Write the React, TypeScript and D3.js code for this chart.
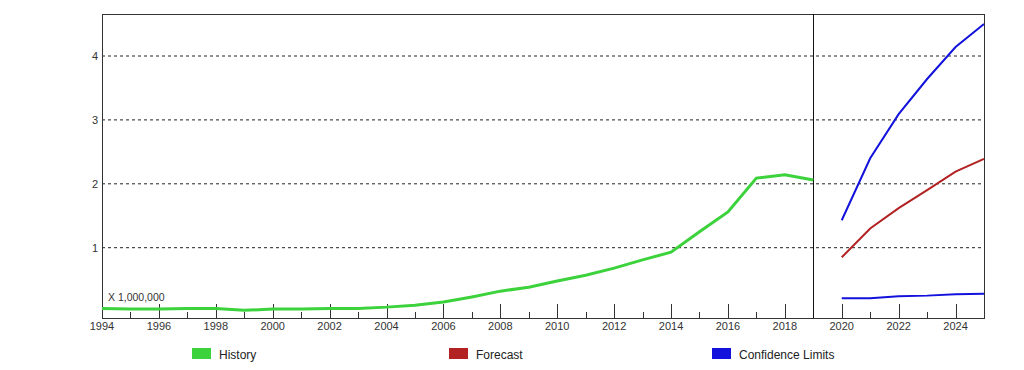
import React from 'react';
import * as d3 from 'd3';

const historyYears = [1994, 1995, 1996, 1997, 1998, 1999, 2000, 2001, 2002, 2003, 2004, 2005, 2006, 2007, 2008, 2009, 2010, 2011, 2012, 2013, 2014, 2015, 2016, 2017, 2018, 2019];
const historyValues = [0.05, 0.04, 0.04, 0.05, 0.05, 0.02, 0.04, 0.04, 0.05, 0.05, 0.07, 0.1, 0.15, 0.23, 0.32, 0.38, 0.48, 0.57, 0.68, 0.81, 0.93, 1.25, 1.56, 2.09, 2.14, 2.06];

const forecastYears = [2020, 2021, 2022, 2023, 2024, 2025];
const forecastValues = [0.85, 1.3, 1.62, 1.9, 2.19, 2.39];
const upperValues = [1.43, 2.4, 3.09, 3.64, 4.14, 4.5];
const lowerValues = [0.21, 0.21, 0.24, 0.25, 0.27, 0.28];

const yTicks = [1, 2, 3, 4];
const xLabelYears = d3.range(1994, 2025, 2);
const legendItems = [
  { label: 'History', color: '#3cd23c', x: 192 },
  { label: 'Forecast', color: '#b22222', x: 449 },
  { label: 'Confidence Limits', color: '#1212dc', x: 712 },
];

const width = 1024;
const height = 370;
const left = 102;
const right = 984;
const top = 14;
const bottom = 318;
const font = 'Liberation Sans, Arial, sans-serif';

const App = () => {
  const x = d3.scaleLinear().domain([1994, 2025]).range([left, right]);
  const y = d3.scaleLinear().domain([0, 4]).range([311.6, 56]);

  const line = d3.line<[number, number]>()
    .x((d) => x(d[0]))
    .y((d) => y(d[1]));

  const hist = historyYears.map((yr, i) => [yr, historyValues[i]] as [number, number]);
  const fc = forecastYears.map((yr, i) => [yr, forecastValues[i]] as [number, number]);
  const up = forecastYears.map((yr, i) => [yr, upperValues[i]] as [number, number]);
  const lo = forecastYears.map((yr, i) => [yr, lowerValues[i]] as [number, number]);

  const allYears = d3.range(1994, 2026);

  return (
    <svg width={width} height={height} style={{ position: 'absolute', left: 0, top: 0 }}>
      <rect x={0} y={0} width={width} height={height} fill="#fff" />
      {yTicks.map((t) => (
        <g key={t}>
          <line x1={left} x2={right} y1={y(t)} y2={y(t)} stroke="#222" strokeDasharray="3,3" />
          <text x={98} y={y(t)} dy="0.35em" textAnchor="end" fontFamily={font} fontSize={11} fill="#333">{t}</text>
        </g>
      ))}
      {allYears.map((yr) => (
        <line key={yr} x1={Math.round(x(yr)) + 0.5} x2={Math.round(x(yr)) + 0.5}
          y1={yr % 2 === 0 ? bottom - 14 : bottom - 6} y2={bottom} stroke="#333" />
      ))}
      {xLabelYears.map((yr) => (
        <text key={yr} x={x(yr)} y={330} textAnchor="middle" fontFamily={font} fontSize={11} fill="#333">{yr}</text>
      ))}
      <rect x={left + 0.5} y={top + 0.5} width={right - left} height={bottom - top} fill="none" stroke="#333" />
      <line x1={Math.round(x(2019)) + 0.5} x2={Math.round(x(2019)) + 0.5} y1={top} y2={bottom} stroke="#111" />
      <text x={108} y={301} fontFamily={font} fontSize={10.5} fill="#333">X 1,000,000</text>
      <path d={line(hist) ?? ''} fill="none" stroke="#3cd23c" strokeWidth={3} />
      <path d={line(fc) ?? ''} fill="none" stroke="#b22222" strokeWidth={2} />
      <path d={line(up) ?? ''} fill="none" stroke="#1212dc" strokeWidth={2} />
      <path d={line(lo) ?? ''} fill="none" stroke="#1212dc" strokeWidth={2} />
      {legendItems.map((it) => (
        <g key={it.label}>
          <rect x={it.x} y={348} width={19} height={11} fill={it.color} />
          <text x={it.x + 27} y={359} fontFamily={font} fontSize={12} fill="#222">{it.label}</text>
        </g>
      ))}
    </svg>
  );
};

export default App;
